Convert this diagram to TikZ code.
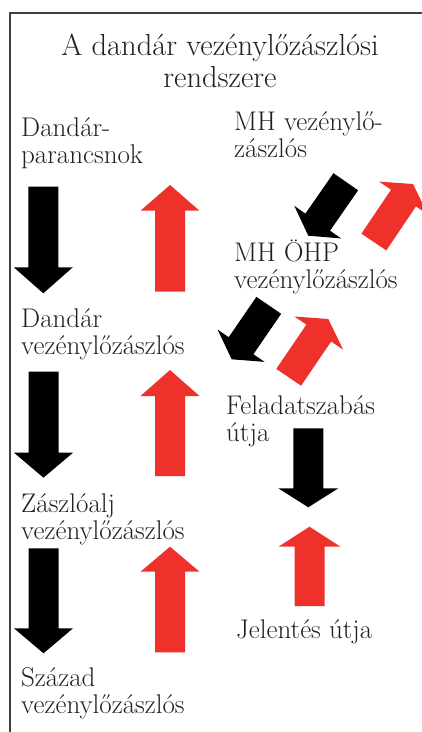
\documentclass[tikz,border=0pt]{standalone}
\definecolor{jelred}{RGB}{238,50,43}
\definecolor{szoveg}{RGB}{35,31,32}
\tikzset{
  felirat/.style={anchor=base west, align=left, text=szoveg, inner sep=0pt,
    font=\fontsize{27}{27}\selectfont},
  % tombnyil: hossz / fejhossz / fej fel-szelesseg, csucs az origoban
  pics/tomb/.style args={#1/#2/#3}{code={
    \fill (0,0) -- (-#2,#3) -- (-#2,15) -- (-#1,15) -- (-#1,-15)
      -- (-#2,-15) -- (-#2,-#3) -- cycle;
  }}
}
\begin{document}
\begin{tikzpicture}[x=1pt,y=-1pt]  % vezenylozaszlos rendszer
	\useasboundingbox (0,0) rectangle (421,732);
	\draw[black!75, line width=1.3pt] (10,745) -- (10,13) -- (430,13);
	\node[anchor=base, align=center, text=szoveg, inner sep=0pt,
		font=\fontsize{30.5}{32}\selectfont] (cim) at (220,87) {A dandár vezénylőzászlósi\\rendszere};
	\node[felirat] (dparancs) at (21,163) {Dandár-\\parancsnok};
	\node[felirat] (dvezeny) at (21,354) {Dandár\\vezénylőzászlós};
	\node[felirat] (zvezeny) at (21,539.5) {Zászlóalj\\vezénylőzászlós};
	\node[felirat] (szvezeny) at (21,713.5) {Század\\vezénylőzászlós};
	\node[felirat] (mhvezeny) at (234,157) {MH vezénylő-\\zászlós};
	\node[felirat] (ohpvezeny) at (234,288) {MH ÖHP\\vezénylőzászlós};
	\node[felirat] (feladat) at (226,441.5) {Feladatszabás\\útja};
	\node[felirat] (jelentes) at (236,638) {Jelentés útja};
	% bal oldali nyilak
	\pic[fill=black, rotate=-90] (le1) at (43.3,293.3) {tomb={106.7/26/29.5}};
	\pic[fill=black, rotate=-90] (le2) at (43.5,477.7) {tomb={106/25/29.5}};
	\pic[fill=black, rotate=-90] (le3) at (43.5,653.3) {tomb={105/25/29.5}};
	\pic[fill=jelred, rotate=90] (fel1) at (170,185) {tomb={106.7/25.7/29.5}};
	\pic[fill=jelred, rotate=90] (fel2) at (170,370) {tomb={106/26/29.5}};
	\pic[fill=jelred, rotate=90] (fel3) at (170,546.7) {tomb={105.6/25/29.5}};
	% jobb oldali nyilak
	\pic[fill=black, rotate=-124.8] (mhle) at (308.3,235.7) {tomb={65.7/16.5/28.5}};
	\pic[fill=jelred, rotate=56] (mhfel) at (413,184) {tomb={70/17/29.5}};
	\pic[fill=black, rotate=-124.5] (ohple) at (231.7,359.3) {tomb={65.5/16.5/28.5}};
	\pic[fill=jelred, rotate=55.8] (ohpfel) at (328.3,319) {tomb={70.5/17/29.5}};
	\pic[fill=black, rotate=-90] (le4) at (308.3,507.3) {tomb={79/19/30}};
	\pic[fill=jelred, rotate=90] (fel4) at (309.5,526.7) {tomb={79.3/20/31}};
\end{tikzpicture}
\end{document}
